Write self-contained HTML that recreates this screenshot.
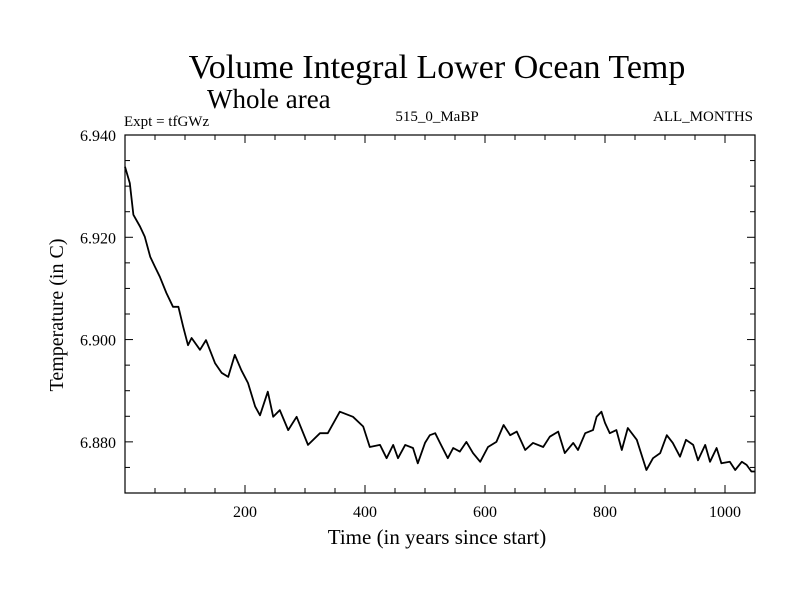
<!DOCTYPE html>
<html><head><meta charset="utf-8"><style>
html,body{margin:0;padding:0;background:#fff;}
svg text{font-family:"Liberation Serif",serif;fill:#000;}
</style></head><body>
<svg id="chart" width="800" height="600" viewBox="0 0 800 600" xmlns="http://www.w3.org/2000/svg">
<text x="437" y="78" font-size="34" text-anchor="middle">Volume Integral Lower Ocean Temp</text>
<text x="207" y="108" font-size="27">Whole area</text>
<text x="124" y="126" font-size="15">Expt = tfGWz</text>
<text x="437" y="121" font-size="15" text-anchor="middle">515_0_MaBP</text>
<text x="753" y="121" font-size="15" text-anchor="end">ALL_MONTHS</text>
<text x="437" y="544" font-size="21" text-anchor="middle">Time (in years since start)</text>
<text transform="translate(63,315) rotate(-90)" font-size="20" text-anchor="middle">Temperature (in C)</text>
<g id="axes"></g>
<g id="series"></g>
<rect x="125" y="135" width="630" height="358" fill="none" stroke="#000" stroke-width="1.2"/>
</svg>
<script>
const years=[0,8,14,25,33,42,50,58,69,80,89,97,105,111,125,135,150,161,172,183,194,205,217,225,238,247,258,272,286,305,325,338,358,380,397,408,425,436,447,455,467,480,488,500,508,517,525,538,547,558,569,580,592,605,619,631,642,653,667,680,697,708,722,733,747,755,767,780,786,794,800,808,819,828,838,853,869,880,892,903,913,925,935,947,955,967,975,986,994,1008,1017,1028,1036,1044,1050];
const temps=[6.9338,6.9306,6.9244,6.9221,6.9201,6.9162,6.9142,6.9123,6.9091,6.9064,6.9064,6.9025,6.8989,6.9003,6.8980,6.8999,6.8954,6.8935,6.8927,6.8970,6.8940,6.8915,6.8869,6.8852,6.8898,6.8849,6.8862,6.8823,6.8849,6.8794,6.8817,6.8817,6.8859,6.8849,6.8830,6.8790,6.8794,6.8768,6.8794,6.8768,6.8794,6.8788,6.8758,6.8798,6.8813,6.8817,6.8798,6.8768,6.8788,6.8781,6.8800,6.8778,6.8761,6.8790,6.8800,6.8833,6.8813,6.8820,6.8784,6.8798,6.8790,6.8810,6.8820,6.8778,6.8798,6.8784,6.8817,6.8823,6.8849,6.8859,6.8837,6.8817,6.8823,6.8784,6.8827,6.8804,6.8745,6.8768,6.8778,6.8813,6.8798,6.8771,6.8804,6.8794,6.8764,6.8794,6.8761,6.8788,6.8758,6.8761,6.8745,6.8761,6.8755,6.8742,6.8742];
const xTicks=[200,400,600,800,1000];
const yTicks=[6.880,6.900,6.920,6.940];
const yTickLabels=["6.880","6.900","6.920","6.940"];
const X0=125,X1=755,Y0=493,Y1=135,xmin=0,xmax=1050,ymin=6.870,ymax=6.940;
const xs=v=>X0+(v-xmin)/(xmax-xmin)*(X1-X0);
const ys=v=>Y0-(v-ymin)/(ymax-ymin)*(Y0-Y1);
const NS='http://www.w3.org/2000/svg';
const axes=document.getElementById('axes');
function mk(tag,at,parent){const e=document.createElementNS(NS,tag);for(const k in at)e.setAttribute(k,at[k]);parent.appendChild(e);return e;}
for(let v=50;v<1050;v+=50){
  const len=(v%200===0)?8:5;
  const t=mk('line',{x1:xs(v),x2:xs(v),y1:Y0,y2:Y0-len,stroke:'#000','stroke-width':1},axes);
  
  
  const t2=mk('line',{x1:xs(v),x2:xs(v),y1:Y1,y2:Y1+len,stroke:'#000','stroke-width':1},axes);
  
  
}
for(let i=1;i<14;i++){
  const v=ymin+i*0.005;
  const major=(i%4===2);
  const len=major?8:5;
  const t=mk('line',{x1:X0,x2:X0+len,y1:ys(v),y2:ys(v),stroke:'#000','stroke-width':1},axes);
  
  
  const t2=mk('line',{x1:X1,x2:X1-len,y1:ys(v),y2:ys(v),stroke:'#000','stroke-width':1},axes);
  
  
}
xTicks.forEach(v=>{
  const t=mk('text',{x:xs(v),y:Y0+24,'font-size':16,'text-anchor':'middle'},axes);
  t.textContent=String(v);
  
  
});
yTicks.forEach((v,i)=>{
  const t=mk('text',{x:X0-9,y:ys(v)+6,'font-size':16,'text-anchor':'end'},axes);
  t.textContent=yTickLabels[i];
  
  
});
const d=years.map((y,i)=>(i?'L':'M')+xs(y).toFixed(1)+','+ys(temps[i]).toFixed(1)).join('');
const p=mk('path',{d:d,fill:'none',stroke:'#000','stroke-width':1.8,'stroke-linejoin':'round'},document.getElementById('series'));


</script>
</body></html>
